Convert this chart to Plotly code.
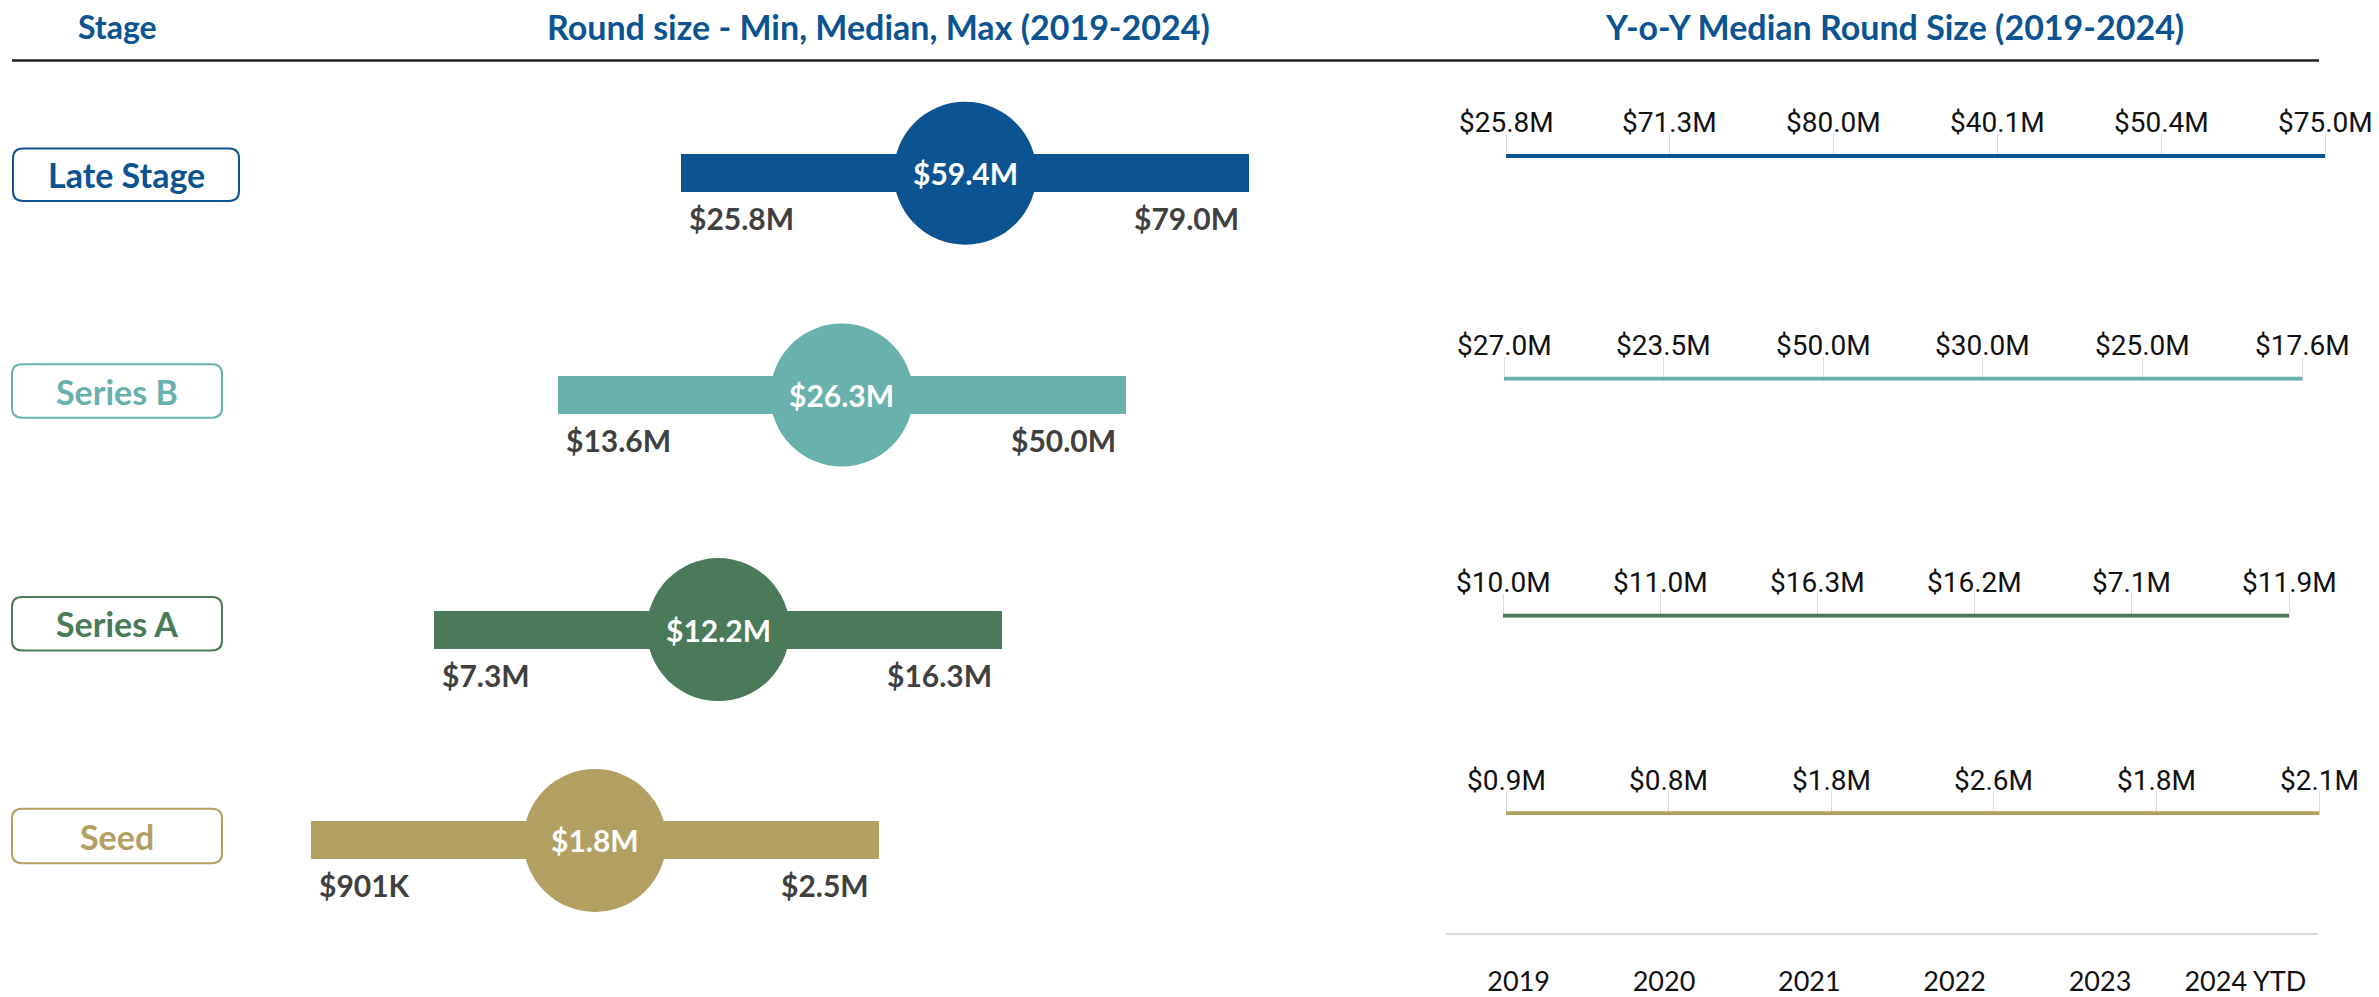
import plotly.graph_objects as go

# ---------------- data ----------------
stages = ["Late Stage", "Series B", "Series A", "Seed"]
round_min = [25.8, 13.6, 7.3, 0.901]
round_median = [59.4, 26.3, 12.2, 1.8]
round_max = [79.0, 50.0, 16.3, 2.5]

years = ["2019", "2020", "2021", "2022", "2023", "2024 YTD"]
yoy_late = [25.8, 71.3, 80.0, 40.1, 50.4, 75.0]
yoy_series_b = [27.0, 23.5, 50.0, 30.0, 25.0, 17.6]
yoy_series_a = [10.0, 11.0, 16.3, 16.2, 7.1, 11.9]
yoy_seed = [0.9, 0.8, 1.8, 2.6, 1.8, 2.1]
yoy = [yoy_late, yoy_series_b, yoy_series_a, yoy_seed]

headers = ["Stage", "Round size - Min, Median, Max (2019-2024)", "Y-o-Y Median Round Size (2019-2024)"]

# ---------------- style / layout constants ----------------
W, H = 2379, 997
colors = ["#0B5391", "#69B1AD", "#4A7A5A", "#B2A062"]
HEAD_COLOR = "#0B5391"
LABEL_GREY = "#404040"
CAL = "Lato"
ROB = "Roboto"

LEFT_X = (311, 1249)          # pixel domain of the left panel
LEFT_ROW_Y = [175, 399, 636, 849]
RIGHT_ROW_Y = [157.5, 382.5, 622, 821.5]
RIGHT_ROW_X = [(1506, 2325), (1504, 2302), (1503, 2289), (1506, 2319)]
BOXES = [(13, 239, 150, 203), (12, 222, 368, 422), (12, 222, 603, 657), (12, 222, 817, 872)]
YEAR_AXIS_X = (1446, 2318)
YEAR_AXIS_Y = 942
BAR_SPAN = 4.6                # bar length in left-axis units
LEFT_RANGE = (0, 7.6)
RPAD = 0.05                   # category padding so the end grid ticks are drawn


def px(x):
    return x / W


def py(y):
    return 1 - y / H


def fmt_money(v, allow_k=False):
    if allow_k and v < 1:
        return f"${v * 1000:.0f}K"
    return f"${v:.1f}M"


fig = go.Figure()
layout = dict(
    width=W, height=H, autosize=False,
    margin=dict(l=0, r=0, t=0, b=0, pad=0),
    paper_bgcolor="white", plot_bgcolor="rgba(0,0,0,0)",
    showlegend=False, bargap=0,
)
annotations = []
shapes = []

n = len(stages)
for i, stage in enumerate(stages):
    c = colors[i]
    # ----- left panel row -----
    xa, ya = f"x{i + 1}", f"y{i + 1}"
    xk, yk = f"xaxis{i + 1}", f"yaxis{i + 1}"
    ry = LEFT_ROW_Y[i]
    layout[xk] = dict(domain=[px(LEFT_X[0]), px(LEFT_X[1])], range=list(LEFT_RANGE),
                      visible=False, anchor=ya, fixedrange=True)
    layout[yk] = dict(domain=[py(ry + 100), py(ry - 100)], range=[-1, 1],
                      visible=False, anchor=xa, fixedrange=True)
    offset = n - 1 - i
    fig.add_trace(go.Bar(x=[BAR_SPAN], base=[offset], y=[0], orientation="h", width=0.38,
                         marker=dict(color=c, line=dict(width=0)), xaxis=xa, yaxis=ya,
                         hoverinfo="skip"))
    mid = offset + BAR_SPAN / 2
    fig.add_trace(go.Scatter(x=[mid], y=[0], mode="markers",
                             marker=dict(size=143, color=c, line=dict(width=0)),
                             xaxis=xa, yaxis=ya, cliponaxis=False, hoverinfo="skip"))
    annotations.append(dict(x=mid, y=0, xref=xa, yref=ya, text=fmt_money(round_median[i]),
                            showarrow=False, xanchor="center", yanchor="middle",
                            font=dict(family=CAL, size=30, color="white", weight=700)))
    annotations.append(dict(x=offset, y=0, xref=xa, yref=ya, text=fmt_money(round_min[i], True),
                            showarrow=False, xanchor="left", yanchor="middle", xshift=6, yshift=-45,
                            font=dict(family=CAL, size=30, color=LABEL_GREY, weight=700)))
    annotations.append(dict(x=offset + BAR_SPAN, y=0, xref=xa, yref=ya, text=fmt_money(round_max[i], True),
                            showarrow=False, xanchor="right", yanchor="middle", xshift=-8, yshift=-45,
                            font=dict(family=CAL, size=30, color=LABEL_GREY, weight=700)))

    # ----- stage label box -----
    x0, x1, y0, y1 = BOXES[i]
    r = 10
    pts = [
        f"M {px(x0 + r)} {py(y0)}", f"L {px(x1 - r)} {py(y0)}",
        f"Q {px(x1)} {py(y0)} {px(x1)} {py(y0 + r)}", f"L {px(x1)} {py(y1 - r)}",
        f"Q {px(x1)} {py(y1)} {px(x1 - r)} {py(y1)}", f"L {px(x0 + r)} {py(y1)}",
        f"Q {px(x0)} {py(y1)} {px(x0)} {py(y1 - r)}", f"L {px(x0)} {py(y0 + r)}",
        f"Q {px(x0)} {py(y0)} {px(x0 + r)} {py(y0)}", "Z",
    ]
    shapes.append(dict(type="path", xref="paper", yref="paper", path=" ".join(pts),
                       line=dict(color=c, width=2), fillcolor="white", layer="below"))
    annotations.append(dict(x=px((x0 + x1) / 2), y=py((y0 + y1) / 2), xref="paper", yref="paper",
                            text=stage, showarrow=False, xanchor="center", yanchor="middle",
                            font=dict(family=CAL, size=34, color=c, weight=700)))

    # ----- right panel row -----
    j = i + 5
    xa, ya = f"x{j}", f"y{j}"
    xk, yk = f"xaxis{j}", f"yaxis{j}"
    ly = RIGHT_ROW_Y[i]
    rx0, rx1 = RIGHT_ROW_X[i]
    step = (rx1 - rx0) / (len(years) - 1)
    layout[xk] = dict(domain=[px(rx0 - RPAD * step), px(rx1 + RPAD * step)], type="category",
                      range=[-RPAD, len(years) - 1 + RPAD],
                      showgrid=True, gridcolor="#d9d9d9", gridwidth=1, showticklabels=False,
                      ticks="", zeroline=False, showline=False, anchor=ya, fixedrange=True)
    layout[yk] = dict(domain=[py(ly + 2), py(ly - 22)], range=[-2, 22], visible=False,
                      showgrid=False, zeroline=False, anchor=xa, fixedrange=True)
    fig.add_trace(go.Scatter(x=years, y=[0] * len(years), mode="lines",
                             line=dict(color=c, width=4), xaxis=xa, yaxis=ya,
                             hoverinfo="skip", cliponaxis=False))
    for k, v in enumerate(yoy[i]):
        annotations.append(dict(x=k, y=0, xref=xa, yref=ya, text=fmt_money(v), showarrow=False,
                                xanchor="center", yanchor="middle", yshift=33,
                                font=dict(family=ROB, size=28, color="#111111",
                                          shadow="0px 0px 2px #ffffff")))

# ----- bottom year axis -----
layout["xaxis9"] = dict(domain=[px(YEAR_AXIS_X[0]), px(YEAR_AXIS_X[1])], type="category",
                        range=[-0.5, len(years) - 0.5], showline=True, linecolor="#d9d9d9",
                        linewidth=2, showgrid=False, zeroline=False, ticks="outside",
                        ticklen=24, tickcolor="rgba(0,0,0,0)",
                        tickfont=dict(family=CAL, size=27, color="#111111"),
                        anchor="y9", fixedrange=True)
layout["yaxis9"] = dict(domain=[py(YEAR_AXIS_Y), py(YEAR_AXIS_Y - 10)], range=[0, 1],
                        visible=False, anchor="x9", fixedrange=True)
fig.add_trace(go.Scatter(x=years, y=[None] * len(years), mode="lines", xaxis="x9", yaxis="y9",
                         hoverinfo="skip"))

# ----- headers -----
header_x = [117, 878, 1894]
header_size = [32, 34, 34]
for hx, hs, txt in zip(header_x, header_size, headers):
    annotations.append(dict(x=px(hx), y=py(27), xref="paper", yref="paper", text=txt,
                            showarrow=False, xanchor="center", yanchor="middle",
                            font=dict(family=CAL, size=hs, color=HEAD_COLOR, weight=700)))
shapes.append(dict(type="line", xref="paper", yref="paper", x0=px(12), x1=px(2319),
                   y0=py(61), y1=py(61), line=dict(color="#1f1f1f", width=2.5)))

layout["annotations"] = annotations
layout["shapes"] = shapes
fig.update_layout(**layout)
fig.write_html("out.html", config={"displayModeBar": False},
               post_script="document.body.style.margin='0';document.body.style.overflow='hidden';")
